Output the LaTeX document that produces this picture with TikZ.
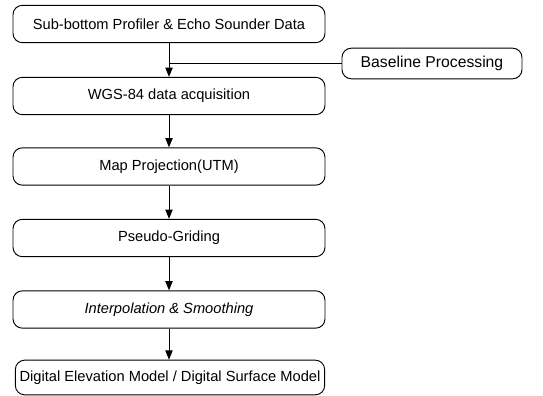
\documentclass[tikz,border=0pt]{standalone}
\usepackage{fontspec}
\setmainfont{Liberation Sans}
\usetikzlibrary{arrows.meta}

\tikzset{
  stage/.style={draw, rounded corners=7pt, line width=0.7pt,
    minimum width=234pt, minimum height=28pt, inner sep=2pt, font=\fontsize{11}{13}\selectfont},
  side/.style={stage, minimum width=135pt, minimum height=23pt, font=\fontsize{11.8}{14}\selectfont},
  flow/.style={line width=0.7pt, -{Triangle[length=7pt,width=5.5pt]}}
}

\begin{document}
\begin{tikzpicture}[x=0.75pt,y=-0.75pt]
  \useasboundingbox (0,0) rectangle (543,396);
  % processing chain
  \node[stage] (src) at (169,24) {Sub-bottom Profiler \& Echo Sounder Data};
  \node[side] (base) at (432,63.5) {Baseline Processing};
  \node[stage] (wgs) at (169,96) {WGS-84 data acquisition};
  \node[stage] (utm) at (169,166.5) {Map Projection(UTM)};
  \node[stage] (grid) at (169,238) {Pseudo-Griding};
  \node[stage] (interp) at (169,309.5) {\itshape Interpolation \& Smoothing};
  \node[stage, minimum width=232pt, minimum height=26pt] (dem) at (170,377.5) {Digital Elevation Model / Digital Surface Model};

  \draw[flow] (src) -- (wgs);
  \draw[line width=0.7pt] (base.west) -- (base.west -| src.south);
  \draw[flow] (wgs) -- (utm);
  \draw[flow] (utm) -- (grid);
  \draw[flow] (grid) -- (interp);
  \draw[flow] (interp) -- (dem.north -| interp.south);
\end{tikzpicture}
\end{document}
